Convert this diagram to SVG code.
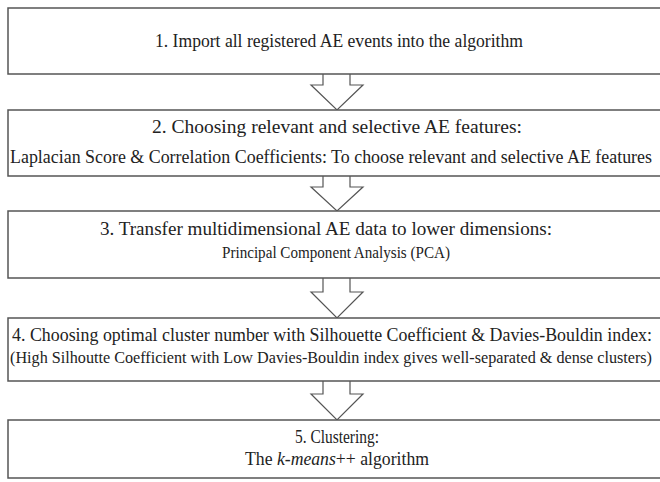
<svg xmlns="http://www.w3.org/2000/svg" width="660" height="482" viewBox="0 0 660 482">
<style>
.box{fill:#fff;stroke:#555;stroke-width:1.5}
.arr{fill:#fff;stroke:#555;stroke-width:1.2;stroke-linejoin:miter}
.t{font-family:'Liberation Serif',serif;font-size:18px;fill:#222;text-anchor:middle}
.s{font-family:'Liberation Serif',serif;font-size:16px;fill:#222;text-anchor:middle}
</style>
<rect width="660" height="482" fill="#fff"/>
<g id="connectors">
<path class="arr" d="M323,74 V85 H311 L337,110 L363,85 H350 V74"/>
<path class="arr" d="M323,176 V187 H311 L337,211 L363,187 H350 V176"/>
<path class="arr" d="M323,278 V292 H311 L337,318 L363,292 H350 V278"/>
<path class="arr" d="M323,381 V394 H311 L337,420 L363,394 H350 V381"/>
</g>
<g id="n1">
<rect class="box" x="8" y="8" width="670" height="66"/>
<text class="t" x="339" y="47" textLength="368" lengthAdjust="spacingAndGlyphs">1. Import all registered AE events into the algorithm</text>
</g>
<g id="n2">
<rect class="box" x="8" y="110" width="670" height="66"/>
<text class="t" x="337" y="133" textLength="370" lengthAdjust="spacingAndGlyphs">2. Choosing relevant and selective AE features:</text>
<text class="t" x="331" y="163" textLength="642" lengthAdjust="spacingAndGlyphs">Laplacian Score &amp; Correlation Coefficients: To choose relevant and selective AE features</text>
</g>
<g id="n3">
<rect class="box" x="8" y="211" width="670" height="67"/>
<text class="t" x="326" y="235" textLength="452" lengthAdjust="spacingAndGlyphs">3. Transfer multidimensional AE data to lower dimensions:</text>
<text class="s" x="336" y="258" textLength="228" lengthAdjust="spacingAndGlyphs">Principal Component Analysis (PCA)</text>
</g>
<g id="n4">
<rect class="box" x="8" y="318" width="670" height="63"/>
<text class="t" x="332" y="341" textLength="640" lengthAdjust="spacingAndGlyphs">4. Choosing optimal cluster number with Silhouette Coefficient &amp; Davies-Bouldin index:</text>
<text class="s" x="331" y="363" textLength="642" lengthAdjust="spacingAndGlyphs">(High Silhoutte Coefficient with Low Davies-Bouldin index gives well-separated &amp; dense clusters)</text>
</g>
<g id="n5">
<rect class="box" x="8" y="420" width="670" height="58"/>
<text class="t" x="337" y="443" textLength="84" lengthAdjust="spacingAndGlyphs">5. Clustering:</text>
<text class="t" x="337" y="465" textLength="184" lengthAdjust="spacingAndGlyphs">The <tspan font-style="italic">k-means</tspan>++ algorithm</text>
</g>
</svg>
